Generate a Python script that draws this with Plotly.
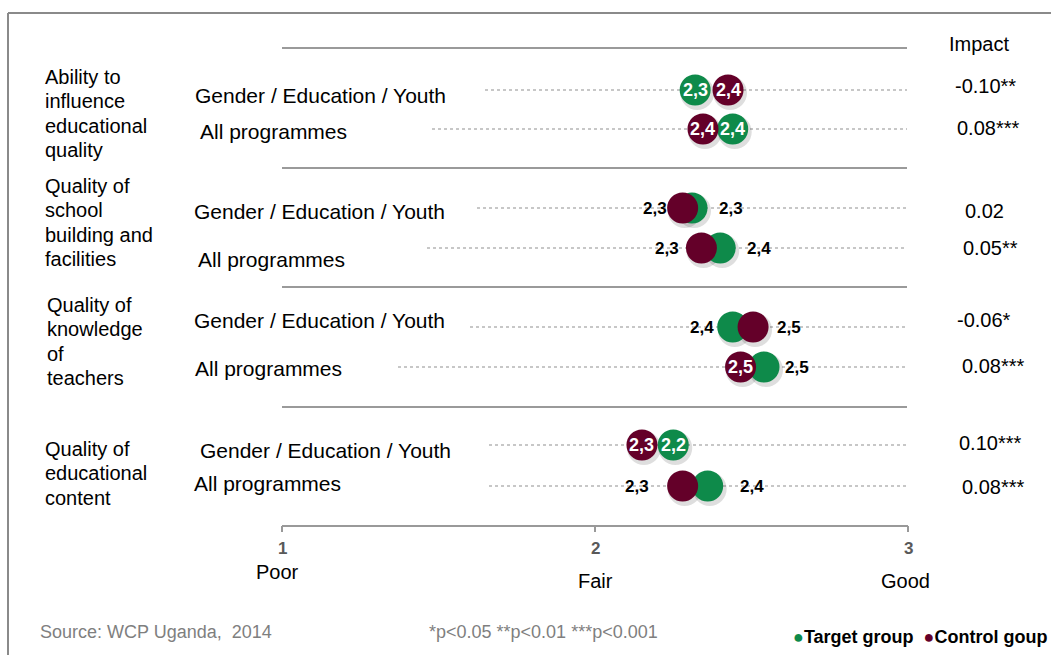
import plotly.graph_objects as go

# ---- data ----
categories = [
    ["Ability to", "influence", "educational", "quality"],
    ["Quality of", "school", "building and", "facilities"],
    ["Quality of", "knowledge", "of", "teachers"],
    ["Quality of", "educational", "content"],
]
subgroups = ["Gender / Education / Youth", "All programmes"] * 4
target_values = [2.32, 2.44, 2.31, 2.40, 2.44, 2.54, 2.25, 2.36]
control_values = [2.425, 2.345, 2.28, 2.34, 2.505, 2.465, 2.15, 2.28]
target_labels = ["2,3", "2,4", "2,3", "2,4", "2,4", "2,5", "2,2", "2,4"]
control_labels = ["2,4", "2,4", "2,3", "2,3", "2,5", "2,5", "2,3", "2,3"]
impact = ["-0.10**", "0.08***", "0.02", "0.05**", "-0.06*", "0.08***", "0.10***", "0.08***"]
scale_ticks = [1, 2, 3]
scale_names = ["Poor", "Fair", "Good"]

# ---- layout (pixels) ----
W, H = 1051, 655
X1_PX, PX_PER_UNIT = 282, 313
ROW_Y = [90, 129, 208, 248, 327, 367, 445, 486]
SUB_Y = [95, 131, 211, 259, 320, 368, 450, 483]
SUB_X = [193, 198, 192, 196, 192, 193, 198, 192]
CAT_TOP = [77, 186, 305, 449]
CAT_X = [43, 43, 45, 43]
LINE_GAP = 24.4
IMPACT_Y = [86, 128, 211, 248, 320, 366, 443, 487]
IMPACT_X = [953, 955, 963, 961, 955, 960, 957, 960]
DOT_START = [485, 432, 477, 427, 470, 398, 489, 489]
SEP_Y = [48, 168, 287, 407]
AXIS_Y = 526
# label placement: None -> inside circle, number -> pixel shift from centre
TARGET_SHIFT = [None, None, 39, 39, -31, 33, None, 44]
CONTROL_SHIFT = [None, None, -28, -34, 36, None, None, -46]

GREEN = "#0E8A4A"
MAROON = "#640029"
FONT = "Liberation Sans, Arial, sans-serif"

x_lo = 1 - X1_PX / PX_PER_UNIT
x_hi = 1 + (W - X1_PX) / PX_PER_UNIT


def px(x):
    return x / W


fig = go.Figure()

# dotted row guides
for y, xs in zip(ROW_Y, DOT_START):
    fig.add_shape(type="line", xref="paper", yref="y", x0=px(xs), x1=px(907), y0=y, y1=y,
                  line=dict(color="#b5b5b5", width=1.5, dash="dot"), layer="below")

# shadows
fig.add_trace(go.Scatter(
    x=[v + 2 / PX_PER_UNIT for v in target_values + control_values],
    y=[y + 3 for y in ROW_Y + ROW_Y],
    mode="markers", hoverinfo="skip", showlegend=False,
    marker=dict(size=34, color="rgba(0,0,0,0.13)", line=dict(width=0)),
))
fig.add_trace(go.Scatter(
    x=target_values, y=ROW_Y, mode="markers", name="Target group", showlegend=False,
    marker=dict(size=31, color=GREEN, line=dict(width=0)),
))
fig.add_trace(go.Scatter(
    x=control_values, y=ROW_Y, mode="markers", name="Control goup", showlegend=False,
    marker=dict(size=31, color=MAROON, line=dict(width=0)),
))

# value labels
for vals, labels, shifts in [(target_values, target_labels, TARGET_SHIFT),
                             (control_values, control_labels, CONTROL_SHIFT)]:
    for v, lab, y, s in zip(vals, labels, ROW_Y, shifts):
        fig.add_annotation(
            x=v, y=y, xref="x", yref="y", text="<b>%s</b>" % lab, showarrow=False,
            xshift=0 if s is None else s,
            font=dict(family=FONT, size=18 if s is None else 17,
                      color="white" if s is None else "black"),
        )

# separators and frame
for y in SEP_Y:
    fig.add_shape(type="line", xref="paper", yref="y", x0=px(282), x1=px(907), y0=y, y1=y,
                  line=dict(color="#9a9a9a", width=2))
fig.add_shape(type="line", xref="paper", yref="y", x0=px(8), x1=1, y0=13, y1=13,
              line=dict(color="#8a8a8a", width=2))
fig.add_shape(type="line", xref="paper", yref="y", x0=px(8), x1=px(8), y0=13, y1=H,
              line=dict(color="#8a8a8a", width=2))

# scale axis
fig.add_shape(type="line", xref="x", yref="y", x0=scale_ticks[0], x1=scale_ticks[-1],
              y0=AXIS_Y, y1=AXIS_Y, line=dict(color="#999999", width=2))
for t, name, dy in zip(scale_ticks, scale_names, [572, 581, 581]):
    fig.add_shape(type="line", xref="x", yref="y", x0=t, x1=t, y0=AXIS_Y, y1=AXIS_Y + 6,
                  line=dict(color="#999999", width=2))
    fig.add_annotation(x=t, y=548, xref="x", yref="y", text="<b>%d</b>" % t, showarrow=False,
                       font=dict(family=FONT, size=17, color="#595959"))
    fig.add_annotation(x=t, y=dy, xref="x", yref="y", text=name, showarrow=False,
                       xshift=-5 if t == 1 else (-3 if t == 3 else 0),
                       font=dict(family=FONT, size=20, color="black"))

# category and subgroup labels
for lines, top, x in zip(categories, CAT_TOP, CAT_X):
    for i, line in enumerate(lines):
        fig.add_annotation(x=px(x), y=top + i * LINE_GAP, xref="paper", yref="y", text=line,
                           showarrow=False, xanchor="left",
                           font=dict(family=FONT, size=20, color="black"))
for sub, y, x in zip(subgroups, SUB_Y, SUB_X):
    fig.add_annotation(x=px(x), y=y, xref="paper", yref="y", text=sub, showarrow=False,
                       xanchor="left", font=dict(family=FONT, size=21, color="black"))

# impact column
fig.add_annotation(x=px(979), y=44, xref="paper", yref="y", text="Impact", showarrow=False,
                   xanchor="center", font=dict(family=FONT, size=20, color="black"))
for val, y, x in zip(impact, IMPACT_Y, IMPACT_X):
    fig.add_annotation(x=px(x), y=y, xref="paper", yref="y", text=val, showarrow=False,
                       xanchor="left", font=dict(family=FONT, size=20, color="black"))

# footer
fig.add_annotation(x=px(38), y=632, xref="paper", yref="y", text="Source: WCP Uganda,  2014",
                   showarrow=False, xanchor="left",
                   font=dict(family=FONT, size=18, color="#7f7f7f"))
fig.add_annotation(x=px(427), y=632, xref="paper", yref="y",
                   text="*p<0.05 **p<0.01 ***p<0.001", showarrow=False, xanchor="left",
                   font=dict(family=FONT, size=18, color="#7f7f7f"))
fig.add_annotation(
    x=px(1049), y=637, xref="paper", yref="y", showarrow=False, xanchor="right",
    text=("<span style='color:%s'>●</span><b>Target group</b>  "
          "<span style='color:%s'>●</span><b>Control goup</b>") % (GREEN, MAROON),
    font=dict(family=FONT, size=18, color="black"),
)

fig.update_layout(
    width=W, height=H, autosize=False,
    margin=dict(l=0, r=0, t=0, b=0),
    paper_bgcolor="white", plot_bgcolor="white",
    xaxis=dict(range=[x_lo, x_hi], visible=False, fixedrange=True),
    yaxis=dict(range=[H, 0], visible=False, fixedrange=True),
    showlegend=False,
)

fig.write_html("out.html", config={"displayModeBar": False},
               post_script="document.body.style.margin='0';")
